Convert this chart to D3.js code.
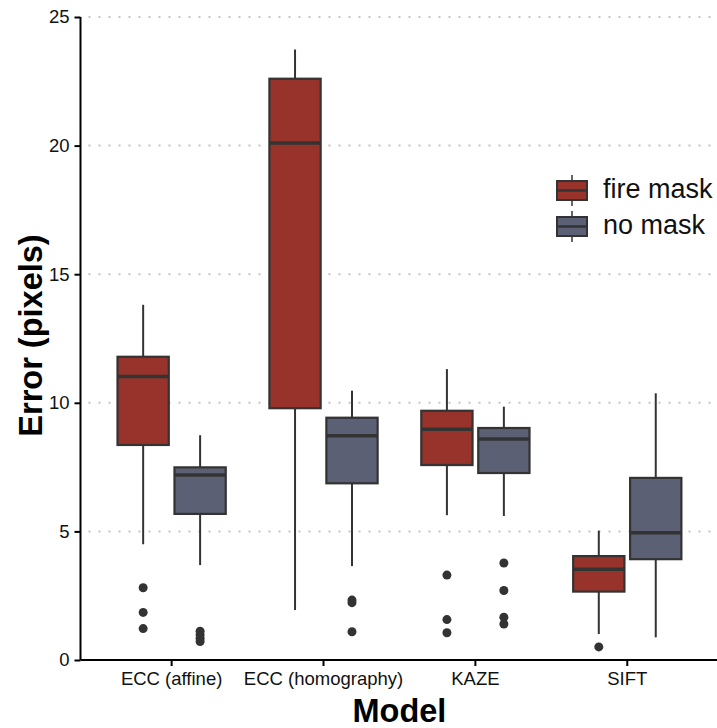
<!DOCTYPE html>
<html lang="en">
<head>
    <meta charset="UTF-8"/>
    <title>Error by model</title>
    <script src="https://d3js.org/d3.v7.min.js"></script>
    <style>
        body { margin: 0; background: #fff; }
        svg { display: block; font-family: "Liberation Sans", Arial, Helvetica, sans-serif; }
    </style>
</head>
<body>
    <script>
        var w = 717;
        var h = 728;

        var models = ["ECC (affine)", "ECC (homography)", "KAZE", "SIFT"];
        var groups = ["fire mask", "no mask"];
        var colours = ["#98332b", "#5b6074"];
        var yTicks = [0, 5, 10, 15, 20, 25];

        // [lower whisker, Q1, median, Q3, upper whisker]
        var fireStats = [
            [4.50, 8.36, 11.02, 11.79, 13.81],
            [1.94, 9.79, 20.10, 22.60, 23.74],
            [5.63, 7.58, 8.97, 9.69, 11.31],
            [1.01, 2.66, 3.53, 4.04, 5.03]
        ];
        var noMaskStats = [
            [3.69, 5.68, 7.19, 7.49, 8.74],
            [3.65, 6.87, 8.72, 9.42, 10.47],
            [5.60, 7.27, 8.59, 9.02, 9.85],
            [0.88, 3.92, 4.95, 7.08, 10.37]
        ];
        var fireOutliers = [
            [2.81, 1.85, 1.22],
            [],
            [3.30, 1.57, 1.06],
            [0.51]
        ];
        var noMaskOutliers = [
            [1.12, 0.98, 0.85, 0.72],
            [2.33, 2.23, 1.10],
            [3.77, 2.70, 1.66, 1.40],
            []
        ];

        var boxes = [];
        var points = [];
        models.forEach(function(m, i) {
            boxes.push({ model: m, group: groups[0], s: fireStats[i] });
            boxes.push({ model: m, group: groups[1], s: noMaskStats[i] });
            fireOutliers[i].forEach(function(v) { points.push({ model: m, group: groups[0], v: v }); });
            noMaskOutliers[i].forEach(function(v) { points.push({ model: m, group: groups[1], v: v }); });
        });

        var padLeft = 80.5, padRight = 718.4, padTop = 17, padBottom = 660;

        var xScale = d3.scaleBand()
            .domain(models)
            .range([padLeft, padRight])
            .paddingInner(0)
            .paddingOuter(0.1);

        var bw = xScale.bandwidth();
        var xSub = d3.scaleBand()
            .domain(groups)
            .range([bw * 0.125, bw * 0.875])
            .paddingInner(0.1)
            .paddingOuter(0.05);

        var yScale = d3.scaleLinear()
            .domain([0, 25])
            .range([padBottom, padTop]);

        var colour = d3.scaleOrdinal().domain(groups).range(colours);

        var svg = d3.select("body")
            .append("svg")
            .attr("width", w)
            .attr("height", h);

        // dotted grid
        svg.append("g")
            .selectAll("line")
            .data(yTicks.filter(function(d) { return d > 0; }))
            .enter()
            .append("line")
            .attr("x1", padLeft + 8)
            .attr("x2", w)
            .attr("y1", function(d) { return yScale(d); })
            .attr("y2", function(d) { return yScale(d); })
            .attr("stroke", "#c4c4c4")
            .attr("stroke-width", 2)
            .attr("stroke-dasharray", "2,8");

        function cx(d) {
            return xScale(d.model) + xSub(d.group) + xSub.bandwidth() / 2;
        }

        var bx = xSub.bandwidth();
        var g = svg.append("g")
            .selectAll("g")
            .data(boxes)
            .enter()
            .append("g");

        g.append("line")
            .attr("x1", cx).attr("x2", cx)
            .attr("y1", function(d) { return yScale(d.s[0]); })
            .attr("y2", function(d) { return yScale(d.s[4]); })
            .attr("stroke", "#333")
            .attr("stroke-width", 2);

        g.append("rect")
            .attr("x", function(d) { return cx(d) - bx / 2; })
            .attr("width", bx)
            .attr("y", function(d) { return yScale(d.s[3]); })
            .attr("height", function(d) { return yScale(d.s[1]) - yScale(d.s[3]); })
            .attr("fill", function(d) { return colour(d.group); })
            .attr("stroke", "#333")
            .attr("stroke-width", 2.2);

        g.append("line")
            .attr("x1", function(d) { return cx(d) - bx / 2; })
            .attr("x2", function(d) { return cx(d) + bx / 2; })
            .attr("y1", function(d) { return yScale(d.s[2]); })
            .attr("y2", function(d) { return yScale(d.s[2]); })
            .attr("stroke", "#333")
            .attr("stroke-width", 3.5);

        svg.append("g")
            .selectAll("circle")
            .data(points)
            .enter()
            .append("circle")
            .attr("cx", cx)
            .attr("cy", function(d) { return yScale(d.v); })
            .attr("r", 4.5)
            .attr("fill", "#333");

        // axes
        var xAxis = d3.axisBottom(xScale).tickSize(6).tickPadding(6);
        var gx = svg.append("g")
            .attr("transform", "translate(0," + padBottom + ")")
            .call(xAxis);
        gx.select(".domain").attr("d", "M" + padLeft + ",0H" + w);

        var yAxis = d3.axisLeft(yScale).tickValues(yTicks).tickSize(6).tickPadding(5);
        var gy = svg.append("g")
            .attr("transform", "translate(" + padLeft + ",0)")
            .call(yAxis);
        gy.select(".domain").attr("d", "M0," + padTop + "V" + padBottom);

        svg.selectAll(".domain, .tick line")
            .attr("stroke", "#000")
            .attr("stroke-width", 2);
        svg.selectAll(".tick text")
            .attr("font-family", "Liberation Sans, Arial, sans-serif")
            .attr("font-size", 18.5)
            .attr("fill", "#111");

        svg.append("text")
            .attr("x", (padLeft + padRight) / 2)
            .attr("y", 722)
            .attr("text-anchor", "middle")
            .attr("font-size", 32.5)
            .attr("font-weight", "bold")
            .text("Model");

        svg.append("text")
            .attr("transform", "translate(42," + ((padTop + padBottom) / 2 - 3) + ") rotate(-90)")
            .attr("text-anchor", "middle")
            .attr("font-size", 32.5)
            .attr("font-weight", "bold")
            .text("Error (pixels)");

        // legend
        var legend = svg.append("g")
            .selectAll("g")
            .data(groups)
            .enter()
            .append("g")
            .attr("transform", function(d, i) { return "translate(557," + (181 + i * 36) + ")"; });

        legend.append("line")
            .attr("x1", 15).attr("x2", 15)
            .attr("y1", -6).attr("y2", 25)
            .attr("stroke", "#333")
            .attr("stroke-width", 1.5);
        legend.append("rect")
            .attr("width", 30)
            .attr("height", 19)
            .attr("fill", function(d) { return colour(d); })
            .attr("stroke", "#333")
            .attr("stroke-width", 2);
        legend.append("line")
            .attr("x1", 0).attr("x2", 30)
            .attr("y1", 9.5).attr("y2", 9.5)
            .attr("stroke", "#333")
            .attr("stroke-width", 2.5);
        legend.append("text")
            .attr("x", 46)
            .attr("y", 17)
            .attr("font-size", 27)
            .attr("fill", "#111")
            .text(function(d) { return d; });
    </script>
</body>
</html>
